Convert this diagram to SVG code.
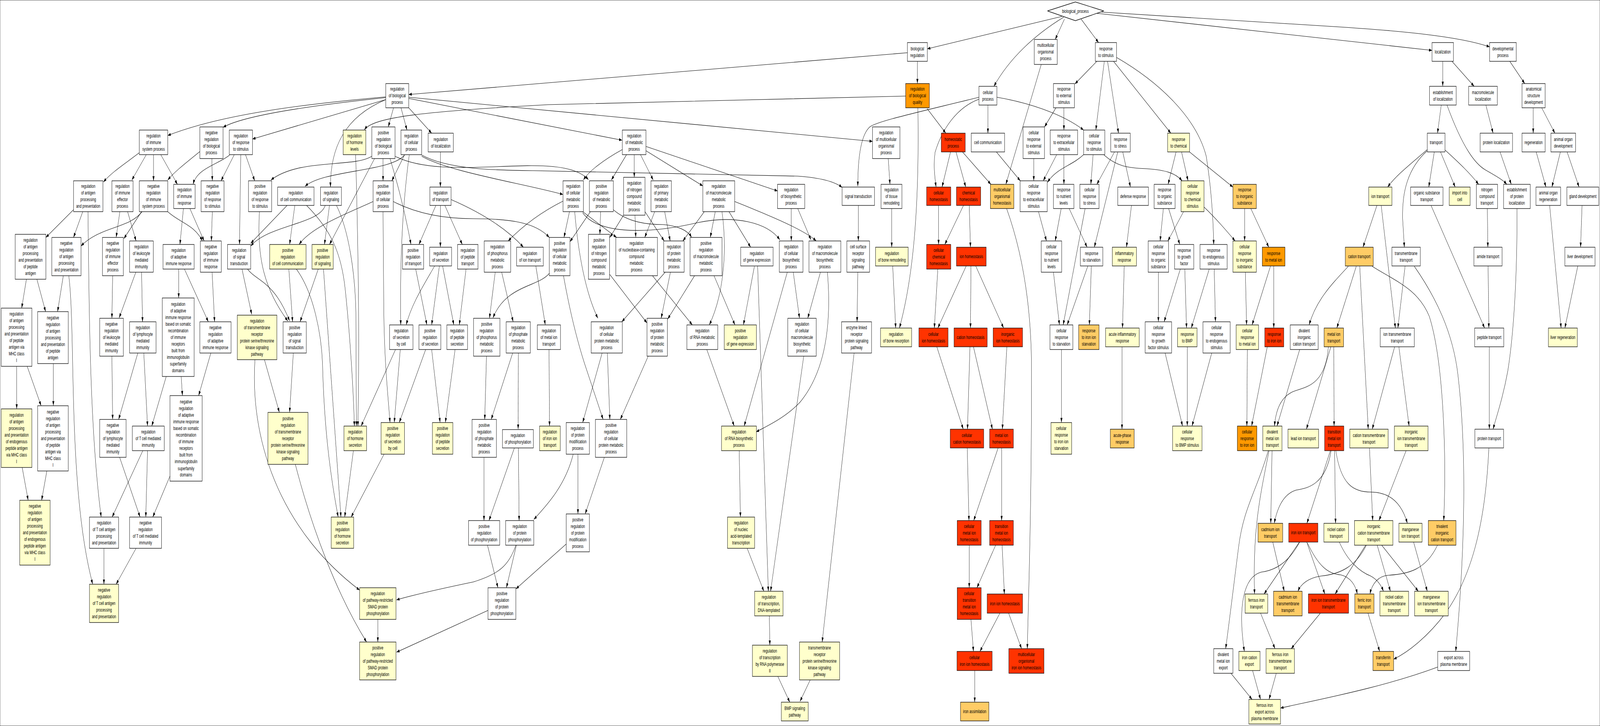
<svg xmlns="http://www.w3.org/2000/svg" width="6420" height="1859" viewBox="0 0 6420 1859" preserveAspectRatio="none">
<style>
svg:root{width:100vw;height:100vh;overflow:hidden}
rect,polygon{stroke:#000;stroke-width:1.3}
.w rect,.w polygon{fill:#fff}.y rect{fill:#ffffcc}.lo rect{fill:#ffcc66}.o rect{fill:#ff9900}.r rect{fill:#ff3300}
text{font-family:"Liberation Sans",Arial,sans-serif;font-size:13px;text-anchor:middle;fill:#000}
#connectors path{fill:none;stroke:#000;stroke-width:1.1;marker-end:url(#a)}
</style>
<defs><marker id="a" viewBox="0 0 12 8" refX="12" refY="4" markerWidth="12" markerHeight="8" markerUnits="userSpaceOnUse" orient="auto"><path d="M0,0 L12,4 L0,8 z" fill="#000"/></marker></defs>
<rect x="0" y="0" width="6420" height="1859" fill="#fff" stroke="none"/>
<g id="connectors">
<path d="M1548,248 C1250,265 900,290 673,347"/>
<path d="M1548,250 C1250,270 980,295 895,326"/>
<path d="M1548,255 L1013,356"/>
<path d="M559,391 C500,420 450,440 415,466"/>
<path d="M587,396 L529,461"/>
<path d="M616,396 L616,463"/>
<path d="M645,396 L712,472"/>
<path d="M802,388 C740,420 700,440 673,461"/>
<path d="M850,406 L852,463"/>
<path d="M921,397 C880,420 790,430 775,472"/>
<path d="M940,396 L887,463"/>
<path d="M966,396 L961,626"/>
<path d="M985,396 L1022,463"/>
<path d="M295,537 L184,608"/>
<path d="M332,542 L295,608"/>
<path d="M353,542 C358,800 360,1100 406,1324"/>
<path d="M481,542 L466,608"/>
<path d="M512,542 L546,617"/>
<path d="M570,542 C520,585 400,580 325,630"/>
<path d="M568,542 L497,611"/>
<path d="M673,542 C720,570 780,575 812,617"/>
<path d="M736,534 L722,626"/>
<path d="M762,534 L819,617"/>
<path d="M852,542 L848,617"/>
<path d="M1041,542 C1030,660 1060,740 1155,822"/>
<path d="M993,689 C1030,720 1100,720 1162,822"/>
<path d="M1152,526 L1006,623"/>
<path d="M1305,526 C1280,575 1080,575 1006,630"/>
<path d="M971,689 L1010,805"/>
<path d="M106,715 L87,789"/>
<path d="M148,715 L183,798"/>
<path d="M254,706 L231,798"/>
<path d="M276,706 C305,850 270,1250 372,1496"/>
<path d="M452,706 L449,815"/>
<path d="M545,697 L478,814"/>
<path d="M568,697 L572,824"/>
<path d="M717,689 L717,763"/>
<path d="M740,689 L836,824"/>
<path d="M851,697 L861,824"/>
<path d="M1061,921 L1121,1056"/>
<path d="M1177,904 L1162,1056"/>
<path d="M1023,921 C1000,1150 1150,1370 1443,1511"/>
<path d="M667,964 L609,1091"/>
<path d="M727,964 L732,1013"/>
<path d="M846,904 L797,1013"/>
<path d="M577,904 L592,1091"/>
<path d="M553,904 L476,1074"/>
<path d="M449,912 L452,1074"/>
<path d="M67,938 L67,1047"/>
<path d="M109,938 L165,1039"/>
<path d="M214,931 L214,1039"/>
<path d="M89,1197 L113,1281"/>
<path d="M188,1206 L167,1281"/>
<path d="M480,1171 L562,1324"/>
<path d="M573,1154 L450,1324"/>
<path d="M592,1154 L585,1324"/>
<path d="M682,1219 L613,1324"/>
<path d="M417,1404 L417,1496"/>
<path d="M546,1404 L466,1496"/>
<path d="M3641,135 L1640,242"/>
<path d="M1640,252 L2496,359"/>
<path d="M1640,249 L3501,362"/>
<path d="M3634,246 L2200,268 C1700,285 1500,300 1462,332"/>
<path d="M1609,276 L1633,333"/>
<path d="M1579,276 L1558,325"/>
<path d="M1640,276 L1732,341"/>
<path d="M1548,255 C1380,300 1325,380 1326,479"/>
<path d="M1492,400 C1420,430 1200,405 1087,461"/>
<path d="M1623,397 C1570,440 1300,435 1224,477"/>
<path d="M1537,406 L1537,463"/>
<path d="M1623,397 L1572,463"/>
<path d="M1503,406 L1322,626"/>
<path d="M1565,406 C1600,480 1630,560 1649,626"/>
<path d="M1642,397 C1610,550 1605,700 1608,832"/>
<path d="M1767,389 L1767,479"/>
<path d="M1585,400 C1800,470 2250,380 2361,460"/>
<path d="M1692,397 C1800,435 2000,436 2140,437 L3200,451 C3290,455 3350,465 3379,480"/>
<path d="M1692,400 C1800,440 2100,470 2259,498"/>
<path d="M1578,516 C1680,550 1800,560 1900,560 C2050,560 2150,570 2204,608"/>
<path d="M1810,511 C1950,550 2040,590 2100,633"/>
<path d="M2259,515 C2150,550 2080,590 2039,617"/>
<path d="M2204,700 C2160,735 2030,730 1978,814"/>
<path d="M1183,526 L1162,626"/>
<path d="M1322,526 L1302,626"/>
<path d="M1497,516 C1400,545 1250,580 1200,626"/>
<path d="M1749,526 L1681,626"/>
<path d="M1767,526 L1767,633"/>
<path d="M1785,526 L1855,626"/>
<path d="M1744,681 C1700,730 1650,780 1630,832"/>
<path d="M1763,681 L1732,832"/>
<path d="M1776,681 L1821,832"/>
<path d="M1870,689 L1843,832"/>
<path d="M1668,689 L1713,832"/>
<path d="M1987,697 L1964,815"/>
<path d="M2013,697 L2059,824"/>
<path d="M2150,681 L2188,832"/>
<path d="M1159,689 L1174,824"/>
<path d="M1277,689 L1204,824"/>
<path d="M1189,689 C1260,750 1290,860 1294,930 C1300,1080 1320,1200 1357,1324"/>
<path d="M1298,689 L1368,1324"/>
<path d="M1230,526 C1330,590 1370,650 1385,740 C1405,860 1418,1000 1422,1091"/>
<path d="M1350,526 C1400,590 1425,700 1428,800 L1430,1091"/>
<path d="M1427,396 C1440,700 1442,900 1436,1091"/>
<path d="M1587,895 L1449,1091"/>
<path d="M1537,542 L1540,800 C1543,930 1555,1000 1565,1082"/>
<path d="M1606,895 L1582,1082"/>
<path d="M1708,895 L1602,1082"/>
<path d="M1732,895 L1766,1082"/>
<path d="M1826,895 L1787,1082"/>
<path d="M1952,912 L1945,1074"/>
<path d="M2057,904 L1971,1074"/>
<path d="M2080,904 L2079,1099"/>
<path d="M1418,1154 L1383,1324"/>
<path d="M1541,1163 L1409,1324"/>
<path d="M1185,1189 C1250,1350 1350,1520 1471,1644"/>
<path d="M1516,1586 L1516,1644"/>
<path d="M2070,1396 C2040,1450 2000,1470 1900,1490 C1750,1510 1650,1525 1591,1536"/>
<path d="M1958,1563 L1591,1670"/>
<path d="M1942,1171 L1942,1333"/>
<path d="M2064,1147 L1962,1333"/>
<path d="M2080,1147 L2083,1333"/>
<path d="M1956,1396 L1998,1505"/>
<path d="M2072,1396 L2032,1505"/>
<path d="M2272,1393 L2070,1508"/>
<path d="M2300,1163 C2270,1240 2200,1290 2142,1330"/>
<path d="M2497,383 C2420,410 2360,440 2341,461"/>
<path d="M2514,396 L2453,461"/>
<path d="M2545,396 L2545,454"/>
<path d="M2570,396 L2621,461"/>
<path d="M2592,386 L2820,476"/>
<path d="M2592,375 L3120,489"/>
<path d="M2285,542 L2263,608"/>
<path d="M2369,542 L2287,619"/>
<path d="M2306,542 C2320,650 2350,750 2399,815"/>
<path d="M2338,542 L2474,608"/>
<path d="M2338,545 C2400,600 2600,600 2800,570 C2950,550 3080,570 3129,614"/>
<path d="M2410,542 L2407,600"/>
<path d="M2461,537 C2520,570 2600,575 2660,575 C2720,578 2760,590 2775,608"/>
<path d="M2502,551 L2447,608"/>
<path d="M2548,551 L2551,608"/>
<path d="M2588,542 L2665,617"/>
<path d="M2627,542 L2587,608"/>
<path d="M2667,542 L2689,617"/>
<path d="M2826,542 L2740,617"/>
<path d="M2870,542 L2850,608"/>
<path d="M2897,542 C2920,650 2900,760 2846,832"/>
<path d="M2925,542 L3012,633"/>
<path d="M2948,516 C3100,555 3230,590 3275,617"/>
<path d="M3175,534 L3175,617"/>
<path d="M3201,534 L3254,614"/>
<path d="M3183,697 L3208,815"/>
<path d="M3292,697 L3241,815"/>
<path d="M3159,697 L2986,1091"/>
<path d="M3320,697 C3340,850 3300,960 3210,1030 C3150,1070 3080,1090 3034,1106"/>
<path d="M2836,895 L2946,1091"/>
<path d="M3040,681 L3083,1514"/>
<path d="M3225,912 L3092,1514"/>
<path d="M3027,682 L2983,832"/>
<path d="M2865,706 L2949,832"/>
<path d="M2787,706 L2679,817"/>
<path d="M2690,697 L2653,815"/>
<path d="M2669,697 L2495,824"/>
<path d="M2447,703 L2596,827"/>
<path d="M2618,706 L2778,832"/>
<path d="M2261,706 C2290,810 2320,880 2345,930 L2420,1074"/>
<path d="M2416,904 L2338,1082"/>
<path d="M2437,904 L2447,1074"/>
<path d="M2601,912 L2489,1074"/>
<path d="M2203,895 L2205,1091"/>
<path d="M2319,1163 L2319,1316"/>
<path d="M2425,1171 L2348,1316"/>
<path d="M2966,1154 L2971,1324"/>
<path d="M2998,1404 L3065,1514"/>
<path d="M3087,1577 L3089,1652"/>
<path d="M3121,1732 L3169,1798"/>
<path d="M3251,1741 L3210,1796"/>
<path d="M3427,904 L3299,1644"/>
<path d="M4261,42 L3721,125"/>
<path d="M4268,44 C4150,90 4050,150 3988,221"/>
<path d="M4271,49 L4234,101"/>
<path d="M3681,157 L3681,214"/>
<path d="M3720,278 L3795,341"/>
<path d="M3683,276 C3690,550 3660,720 3609,840"/>
<path d="M3928,249 C3700,285 3520,310 3490,325 C3455,345 3442,400 3442,477"/>
<path d="M3928,254 C3840,275 3780,330 3752,390 C3745,420 3750,450 3756,479"/>
<path d="M3964,269 L3964,341"/>
<path d="M4000,249 C4120,262 4260,290 4348,333"/>
<path d="M3564,406 L3571,472"/>
<path d="M3578,534 L3578,633"/>
<path d="M3582,681 L3594,840"/>
<path d="M3814,389 L3780,479"/>
<path d="M3836,389 L3875,479"/>
<path d="M3862,389 L3976,472"/>
<path d="M3998,389 L4094,463"/>
<path d="M4178,165 L4036,472"/>
<path d="M3766,526 L3766,626"/>
<path d="M3866,526 L3791,626"/>
<path d="M3889,526 L3894,633"/>
<path d="M4039,534 C4110,660 4139,800 4139,950 C4139,1300 4128,1500 4122,1661"/>
<path d="M4237,276 L4191,325"/>
<path d="M4269,276 L4269,333"/>
<path d="M4148,406 L4148,463"/>
<path d="M4240,396 L4186,463"/>
<path d="M4269,396 L4269,472"/>
<path d="M4348,396 C4300,425 4240,430 4203,467"/>
<path d="M4167,542 L4199,617"/>
<path d="M4258,534 L4234,617"/>
<path d="M4227,697 L4251,832"/>
<path d="M4354,534 L4266,832"/>
<path d="M4365,681 L4282,832"/>
<path d="M4259,895 L4259,1082"/>
<path d="M3444,526 L3444,617"/>
<path d="M3442,697 L3439,824"/>
<path d="M3763,689 L3749,840"/>
<path d="M3877,681 L3763,840"/>
<path d="M3896,681 L3894,840"/>
<path d="M3915,681 L4027,840"/>
<path d="M3759,888 L3865,1099"/>
<path d="M3892,888 L3882,1099"/>
<path d="M3906,888 L3982,1099"/>
<path d="M4040,888 L4022,1099"/>
<path d="M3881,1147 L3888,1333"/>
<path d="M4005,1147 L3907,1333"/>
<path d="M4019,1147 L4019,1333"/>
<path d="M3889,1396 L3889,1505"/>
<path d="M3995,1396 L3920,1505"/>
<path d="M4021,1396 L4030,1521"/>
<path d="M3896,1586 L3906,1668"/>
<path d="M4012,1570 L3932,1668"/>
<path d="M4047,1570 L4099,1661"/>
<path d="M3911,1717 L3911,1798"/>
<path d="M4338,49 L4408,109"/>
<path d="M4420,31 L5350,68 C5600,78 5850,92 5977,120"/>
<path d="M4400,34 L5746,129"/>
<path d="M4401,157 L4313,215"/>
<path d="M4431,157 L4397,333"/>
<path d="M4444,157 L4488,341"/>
<path d="M4468,157 L4698,341"/>
<path d="M4480,147 C4650,210 4800,300 4840,400 C4860,480 4868,560 4870,626"/>
<path d="M4386,396 L4377,472"/>
<path d="M4430,397 C4480,425 4520,430 4600,432 C4680,435 4720,445 4743,463"/>
<path d="M4472,389 L4401,472"/>
<path d="M4505,389 L4536,479"/>
<path d="M4485,389 L4391,633"/>
<path d="M4290,534 L4362,633"/>
<path d="M4719,389 L4687,472"/>
<path d="M4741,389 L4767,463"/>
<path d="M4773,389 L4947,479"/>
<path d="M4540,526 L4520,633"/>
<path d="M4668,534 L4655,617"/>
<path d="M4689,534 L4734,626"/>
<path d="M4749,542 L4686,617"/>
<path d="M4831,530 C4880,560 4920,590 4956,617"/>
<path d="M4994,534 L4994,617"/>
<path d="M5019,534 L5091,633"/>
<path d="M4379,681 L4371,832"/>
<path d="M4511,681 L4504,840"/>
<path d="M4648,697 L4648,824"/>
<path d="M4736,689 L4671,824"/>
<path d="M4754,689 L4761,840"/>
<path d="M4852,689 L4780,840"/>
<path d="M4872,689 L4877,824"/>
<path d="M4997,697 L5002,832"/>
<path d="M5098,681 L5024,832"/>
<path d="M5111,681 L5111,840"/>
<path d="M5410,682 C5340,730 5280,770 5253,832"/>
<path d="M5442,682 L5364,840"/>
<path d="M4502,888 L4502,1099"/>
<path d="M4675,904 L4745,1091"/>
<path d="M4764,888 L4764,1091"/>
<path d="M4862,904 L4783,1091"/>
<path d="M5005,895 L5003,1091"/>
<path d="M5085,888 L5022,1091"/>
<path d="M5215,895 L5124,1091"/>
<path d="M5330,888 C5320,980 5250,990 5200,1000 C5150,1010 5120,1040 5114,1091"/>
<path d="M5340,888 L5242,1099"/>
<path d="M5352,888 L5353,1091"/>
<path d="M5104,1154 L5099,1340"/>
<path d="M5341,1154 C5320,1240 5250,1250 5200,1255 C5150,1265 5125,1300 5113,1340"/>
<path d="M5338,1154 L5244,1340"/>
<path d="M5355,1154 L5359,1340"/>
<path d="M5360,1154 C5380,1240 5430,1260 5500,1260 C5580,1260 5625,1290 5647,1340"/>
<path d="M5092,1154 C5060,1260 5025,1350 5034,1521"/>
<path d="M5089,1154 C5040,1260 4990,1300 4970,1400 C4950,1500 4935,1580 4918,1661"/>
<path d="M5214,1388 L5072,1521"/>
<path d="M5215,1388 C5180,1430 5130,1460 5060,1465 C4980,1480 4970,1570 4993,1668"/>
<path d="M5243,1388 L5316,1521"/>
<path d="M5246,1390 C5290,1450 5330,1470 5380,1472 C5420,1478 5440,1500 5446,1521"/>
<path d="M5107,1388 L5153,1514"/>
<path d="M5483,1396 C5440,1450 5380,1470 5300,1475 C5250,1480 5220,1495 5208,1514"/>
<path d="M5058,1570 L5116,1661"/>
<path d="M5298,1570 L5181,1661"/>
<path d="M4939,1724 L5024,1791"/>
<path d="M5026,1717 L5058,1791"/>
<path d="M5121,1724 L5092,1791"/>
<path d="M5769,1708 C5550,1760 5300,1790 5138,1813"/>
<path d="M5789,157 L5789,221"/>
<path d="M5826,157 L5915,221"/>
<path d="M6058,157 L6118,214"/>
<path d="M5783,269 L5768,341"/>
<path d="M5806,269 C5870,380 5920,420 5960,435 C6000,450 6030,460 6046,472"/>
<path d="M5962,269 L5991,341"/>
<path d="M6152,276 L6152,341"/>
<path d="M6186,276 L6239,341"/>
<path d="M5727,383 C5660,420 5600,450 5568,479"/>
<path d="M5727,386 C5650,430 5625,490 5628,560 L5635,633"/>
<path d="M5755,389 L5733,479"/>
<path d="M5780,389 L5839,479"/>
<path d="M5798,384 C5860,420 5900,445 5933,472"/>
<path d="M6019,389 L6064,472"/>
<path d="M6164,389 L6203,479"/>
<path d="M6261,389 L6227,479"/>
<path d="M6288,389 L6336,479"/>
<path d="M5525,526 L5469,633"/>
<path d="M5542,526 L5599,840"/>
<path d="M5638,681 L5609,840"/>
<path d="M5968,534 L5970,633"/>
<path d="M5742,526 L5957,840"/>
<path d="M5971,681 L5974,840"/>
<path d="M6348,526 L6342,633"/>
<path d="M6218,526 L6264,840"/>
<path d="M6331,681 L6279,840"/>
<path d="M5456,682 L5490,1099"/>
<path d="M5506,682 C5600,720 5690,740 5735,810 C5790,920 5805,1150 5793,1333"/>
<path d="M5675,682 C5760,760 5830,850 5850,960 C5885,1150 5880,1400 5841,1668"/>
<path d="M5596,888 L5506,1099"/>
<path d="M5613,888 L5654,1091"/>
<path d="M5976,888 L5976,1099"/>
<path d="M6087,534 C6088,700 6075,850 6050,950 C6030,1020 6005,1065 5991,1099"/>
<path d="M5495,1147 L5508,1333"/>
<path d="M5642,1154 L5533,1333"/>
<path d="M5480,1396 L5357,1521"/>
<path d="M5526,1396 L5579,1514"/>
<path d="M5544,1396 L5691,1514"/>
<path d="M5374,1388 C5410,1440 5460,1465 5500,1475 C5520,1482 5540,1495 5551,1514"/>
<path d="M5672,1388 L5727,1514"/>
<path d="M5768,1396 C5720,1460 5650,1470 5570,1473 C5530,1475 5505,1495 5497,1521"/>
<path d="M5489,1570 L5536,1668"/>
<path d="M5974,1147 C5960,1350 5900,1480 5800,1570 C5730,1630 5650,1670 5592,1688"/>
</g>
<g id="immune_sys" class="w"><rect x="559" y="333" width="114" height="63"/><text x="616" y="352">regulation<tspan x="616" dy="17">of immune</tspan><tspan x="616" dy="17">system process</tspan></text></g>
<g id="neg_bio" class="w"><rect x="802" y="325" width="93" height="81"/><text x="848.5" y="344.5">negative<tspan x="848.5" dy="17">regulation</tspan><tspan x="848.5" dy="17">of biological</tspan><tspan x="848.5" dy="17">process</tspan></text></g>
<g id="reg_resp_stim" class="w"><rect x="920" y="333" width="93" height="63"/><text x="966.5" y="352">regulation<tspan x="966.5" dy="17">of response</tspan><tspan x="966.5" dy="17">to stimulus</tspan></text></g>
<g id="reg_antigen" class="w"><rect x="295" y="463" width="118" height="79"/><text x="354" y="481.5">regulation<tspan x="354" dy="17">of antigen</tspan><tspan x="354" dy="17">processing</tspan><tspan x="354" dy="17">and presentation</tspan></text></g>
<g id="reg_imm_eff" class="w"><rect x="449" y="463" width="85" height="79"/><text x="491.5" y="481.5">regulation<tspan x="491.5" dy="17">of immune</tspan><tspan x="491.5" dy="17">effector</tspan><tspan x="491.5" dy="17">process</tspan></text></g>
<g id="neg_imm_sys" class="w"><rect x="559" y="463" width="114" height="79"/><text x="616" y="481.5">negative<tspan x="616" dy="17">regulation</tspan><tspan x="616" dy="17">of immune</tspan><tspan x="616" dy="17">system process</tspan></text></g>
<g id="reg_imm_resp" class="w"><rect x="697" y="472" width="86" height="62"/><text x="740" y="490.5">regulation<tspan x="740" dy="17">of immune</tspan><tspan x="740" dy="17">response</tspan></text></g>
<g id="neg_resp_stim" class="w"><rect x="807" y="463" width="92" height="79"/><text x="853" y="481.5">negative<tspan x="853" dy="17">regulation</tspan><tspan x="853" dy="17">of response</tspan><tspan x="853" dy="17">to stimulus</tspan></text></g>
<g id="pos_resp_stim" class="w"><rect x="997" y="463" width="93" height="79"/><text x="1043.5" y="481.5">positive<tspan x="1043.5" dy="17">regulation</tspan><tspan x="1043.5" dy="17">of response</tspan><tspan x="1043.5" dy="17">to stimulus</tspan></text></g>
<g id="reg_antigen_pep" class="w"><rect x="61" y="600" width="123" height="115"/><text x="122.5" y="619.5">regulation<tspan x="122.5" dy="17">of antigen</tspan><tspan x="122.5" dy="17">processing</tspan><tspan x="122.5" dy="17">and presentation</tspan><tspan x="122.5" dy="17">of peptide</tspan><tspan x="122.5" dy="17">antigen</tspan></text></g>
<g id="neg_antigen" class="w"><rect x="208" y="608" width="117" height="98"/><text x="266.5" y="627.5">negative<tspan x="266.5" dy="17">regulation</tspan><tspan x="266.5" dy="17">of antigen</tspan><tspan x="266.5" dy="17">processing</tspan><tspan x="266.5" dy="17">and presentation</tspan></text></g>
<g id="neg_imm_eff" class="w"><rect x="411" y="608" width="84" height="98"/><text x="453" y="627.5">negative<tspan x="453" dy="17">regulation</tspan><tspan x="453" dy="17">of immune</tspan><tspan x="453" dy="17">effector</tspan><tspan x="453" dy="17">process</tspan></text></g>
<g id="reg_leuk" class="w"><rect x="520" y="617" width="95" height="80"/><text x="567.5" y="636">regulation<tspan x="567.5" dy="17">of leukocyte</tspan><tspan x="567.5" dy="17">mediated</tspan><tspan x="567.5" dy="17">immunity</tspan></text></g>
<g id="reg_adapt" class="w"><rect x="654" y="626" width="125" height="63"/><text x="716.5" y="645">regulation<tspan x="716.5" dy="17">of adaptive</tspan><tspan x="716.5" dy="17">immune response</tspan></text></g>
<g id="neg_imm_resp" class="w"><rect x="804" y="617" width="84" height="80"/><text x="846" y="636">negative<tspan x="846" dy="17">regulation</tspan><tspan x="846" dy="17">of immune</tspan><tspan x="846" dy="17">response</tspan></text></g>
<g id="reg_sig_trans" class="w"><rect x="913" y="626" width="93" height="63"/><text x="959.5" y="645">regulation<tspan x="959.5" dy="17">of signal</tspan><tspan x="959.5" dy="17">transduction</tspan></text></g>
<g id="reg_ag_mhc" class="w"><rect x="5" y="789" width="123" height="149"/><text x="66.5" y="808.5">regulation<tspan x="66.5" dy="17">of antigen</tspan><tspan x="66.5" dy="17">processing</tspan><tspan x="66.5" dy="17">and presentation</tspan><tspan x="66.5" dy="17">of peptide</tspan><tspan x="66.5" dy="17">antigen via</tspan><tspan x="66.5" dy="17">MHC class</tspan><tspan x="66.5" dy="17">I</tspan></text></g>
<g id="neg_ag_pep" class="w"><rect x="151" y="798" width="123" height="133"/><text x="212.5" y="818">negative<tspan x="212.5" dy="17">regulation</tspan><tspan x="212.5" dy="17">of antigen</tspan><tspan x="212.5" dy="17">processing</tspan><tspan x="212.5" dy="17">and presentation</tspan><tspan x="212.5" dy="17">of peptide</tspan><tspan x="212.5" dy="17">antigen</tspan></text></g>
<g id="neg_leuk" class="w"><rect x="400" y="815" width="95" height="97"/><text x="447.5" y="834">negative<tspan x="447.5" dy="17">regulation</tspan><tspan x="447.5" dy="17">of leukocyte</tspan><tspan x="447.5" dy="17">mediated</tspan><tspan x="447.5" dy="17">immunity</tspan></text></g>
<g id="reg_lymph" class="w"><rect x="520" y="824" width="106" height="80"/><text x="573" y="843">regulation<tspan x="573" dy="17">of lymphocyte</tspan><tspan x="573" dy="17">mediated</tspan><tspan x="573" dy="17">immunity</tspan></text></g>
<g id="reg_adapt_som" class="w"><rect x="651" y="763" width="128" height="201"/><text x="715" y="783">regulation<tspan x="715" dy="17">of adaptive</tspan><tspan x="715" dy="17">immune response</tspan><tspan x="715" dy="17">based on somatic</tspan><tspan x="715" dy="17">recombination</tspan><tspan x="715" dy="17">of immune</tspan><tspan x="715" dy="17">receptors</tspan><tspan x="715" dy="17">built from</tspan><tspan x="715" dy="17">immunoglobulin</tspan><tspan x="715" dy="17">superfamily</tspan><tspan x="715" dy="17">domains</tspan></text></g>
<g id="neg_adapt" class="w"><rect x="802" y="824" width="125" height="80"/><text x="864.5" y="843">negative<tspan x="864.5" dy="17">regulation</tspan><tspan x="864.5" dy="17">of adaptive</tspan><tspan x="864.5" dy="17">immune response</tspan></text></g>
<g id="reg_tm_ser" class="y"><rect x="952" y="807" width="159" height="114"/><text x="1031.5" y="826">regulation<tspan x="1031.5" dy="17">of transmembrane</tspan><tspan x="1031.5" dy="17">receptor</tspan><tspan x="1031.5" dy="17">protein serine/threonine</tspan><tspan x="1031.5" dy="17">kinase signaling</tspan><tspan x="1031.5" dy="17">pathway</tspan></text></g>
<g id="reg_ag_endo" class="y"><rect x="5" y="1047" width="123" height="150"/><text x="66.5" y="1067">regulation<tspan x="66.5" dy="17">of antigen</tspan><tspan x="66.5" dy="17">processing</tspan><tspan x="66.5" dy="17">and presentation</tspan><tspan x="66.5" dy="17">of endogenous</tspan><tspan x="66.5" dy="17">peptide antigen</tspan><tspan x="66.5" dy="17">via MHC class</tspan><tspan x="66.5" dy="17">I</tspan></text></g>
<g id="neg_ag_mhc" class="w"><rect x="151" y="1039" width="123" height="167"/><text x="212.5" y="1059">negative<tspan x="212.5" dy="17">regulation</tspan><tspan x="212.5" dy="17">of antigen</tspan><tspan x="212.5" dy="17">processing</tspan><tspan x="212.5" dy="17">and presentation</tspan><tspan x="212.5" dy="17">of peptide</tspan><tspan x="212.5" dy="17">antigen via</tspan><tspan x="212.5" dy="17">MHC class</tspan><tspan x="212.5" dy="17">I</tspan></text></g>
<g id="neg_lymph" class="w"><rect x="400" y="1074" width="106" height="97"/><text x="453" y="1093">negative<tspan x="453" dy="17">regulation</tspan><tspan x="453" dy="17">of lymphocyte</tspan><tspan x="453" dy="17">mediated</tspan><tspan x="453" dy="17">immunity</tspan></text></g>
<g id="reg_tcell_med" class="w"><rect x="531" y="1091" width="128" height="63"/><text x="595" y="1110">regulation<tspan x="595" dy="17">of T cell mediated</tspan><tspan x="595" dy="17">immunity</tspan></text></g>
<g id="neg_adapt_som" class="w"><rect x="682" y="1013" width="129" height="219"/><text x="746.5" y="1033.5">negative<tspan x="746.5" dy="17">regulation</tspan><tspan x="746.5" dy="17">of adaptive</tspan><tspan x="746.5" dy="17">immune response</tspan><tspan x="746.5" dy="17">based on somatic</tspan><tspan x="746.5" dy="17">recombination</tspan><tspan x="746.5" dy="17">of immune</tspan><tspan x="746.5" dy="17">receptors</tspan><tspan x="746.5" dy="17">built from</tspan><tspan x="746.5" dy="17">immunoglobulin</tspan><tspan x="746.5" dy="17">superfamily</tspan><tspan x="746.5" dy="17">domains</tspan></text></g>
<g id="neg_ag_endo" class="y"><rect x="79" y="1281" width="122" height="166"/><text x="140" y="1300.5">negative<tspan x="140" dy="17">regulation</tspan><tspan x="140" dy="17">of antigen</tspan><tspan x="140" dy="17">processing</tspan><tspan x="140" dy="17">and presentation</tspan><tspan x="140" dy="17">of endogenous</tspan><tspan x="140" dy="17">peptide antigen</tspan><tspan x="140" dy="17">via MHC class</tspan><tspan x="140" dy="17">I</tspan></text></g>
<g id="reg_tcell_ag" class="w"><rect x="359" y="1324" width="117" height="80"/><text x="417.5" y="1343">regulation<tspan x="417.5" dy="17">of T cell antigen</tspan><tspan x="417.5" dy="17">processing</tspan><tspan x="417.5" dy="17">and presentation</tspan></text></g>
<g id="neg_tcell_med" class="w"><rect x="520" y="1324" width="128" height="80"/><text x="584" y="1343">negative<tspan x="584" dy="17">regulation</tspan><tspan x="584" dy="17">of T cell mediated</tspan><tspan x="584" dy="17">immunity</tspan></text></g>
<g id="neg_tcell_ag" class="y"><rect x="359" y="1496" width="117" height="98"/><text x="417.5" y="1515.5">negative<tspan x="417.5" dy="17">regulation</tspan><tspan x="417.5" dy="17">of T cell antigen</tspan><tspan x="417.5" dy="17">processing</tspan><tspan x="417.5" dy="17">and presentation</tspan></text></g>
<g id="reg_bio" class="w"><rect x="1548" y="214" width="92" height="62"/><text x="1594" y="232.5">regulation<tspan x="1594" dy="17">of biological</tspan><tspan x="1594" dy="17">process</tspan></text></g>
<g id="reg_hormone" class="y"><rect x="1377" y="333" width="91" height="63"/><text x="1422.5" y="352">regulation<tspan x="1422.5" dy="17">of hormone</tspan><tspan x="1422.5" dy="17">levels</tspan></text></g>
<g id="pos_bio" class="w"><rect x="1492" y="325" width="93" height="81"/><text x="1538.5" y="344.5">positive<tspan x="1538.5" dy="17">regulation</tspan><tspan x="1538.5" dy="17">of biological</tspan><tspan x="1538.5" dy="17">process</tspan></text></g>
<g id="reg_cellular" class="w"><rect x="1609" y="333" width="83" height="63"/><text x="1650.5" y="352">regulation<tspan x="1650.5" dy="17">of cellular</tspan><tspan x="1650.5" dy="17">process</tspan></text></g>
<g id="reg_local" class="w"><rect x="1718" y="341" width="101" height="48"/><text x="1768.5" y="361">regulation<tspan x="1768.5" dy="17">of localization</tspan></text></g>
<g id="reg_cell_comm" class="w"><rect x="1114" y="479" width="146" height="47"/><text x="1187" y="498.5">regulation<tspan x="1187" dy="17">of cell communication</tspan></text></g>
<g id="reg_signaling" class="w"><rect x="1286" y="479" width="84" height="47"/><text x="1328" y="498.5">regulation<tspan x="1328" dy="17">of signaling</tspan></text></g>
<g id="pos_cellular" class="w"><rect x="1497" y="463" width="81" height="79"/><text x="1537.5" y="481.5">positive<tspan x="1537.5" dy="17">regulation</tspan><tspan x="1537.5" dy="17">of cellular</tspan><tspan x="1537.5" dy="17">process</tspan></text></g>
<g id="reg_transport" class="w"><rect x="1725" y="479" width="85" height="47"/><text x="1767.5" y="498.5">regulation<tspan x="1767.5" dy="17">of transport</tspan></text></g>
<g id="pos_cell_comm" class="y"><rect x="1082" y="626" width="146" height="63"/><text x="1155" y="645">positive<tspan x="1155" dy="17">regulation</tspan><tspan x="1155" dy="17">of cell communication</tspan></text></g>
<g id="pos_signaling" class="y"><rect x="1252" y="626" width="85" height="63"/><text x="1294.5" y="645">positive<tspan x="1294.5" dy="17">regulation</tspan><tspan x="1294.5" dy="17">of signaling</tspan></text></g>
<g id="pos_transport" class="w"><rect x="1615" y="626" width="85" height="63"/><text x="1657.5" y="645">positive<tspan x="1657.5" dy="17">regulation</tspan><tspan x="1657.5" dy="17">of transport</tspan></text></g>
<g id="reg_secretion" class="w"><rect x="1724" y="633" width="88" height="48"/><text x="1768" y="653">regulation<tspan x="1768" dy="17">of secretion</tspan></text></g>
<g id="reg_pep_trans" class="w"><rect x="1836" y="626" width="82" height="63"/><text x="1877" y="645">regulation<tspan x="1877" dy="17">of peptide</tspan><tspan x="1877" dy="17">transport</tspan></text></g>
<g id="reg_phosphorus" class="w"><rect x="1943" y="617" width="106" height="80"/><text x="1996" y="636">regulation<tspan x="1996" dy="17">of phosphorus</tspan><tspan x="1996" dy="17">metabolic</tspan><tspan x="1996" dy="17">process</tspan></text></g>
<g id="reg_ion_trans" class="w"><rect x="2073" y="633" width="107" height="48"/><text x="2126.5" y="653">regulation<tspan x="2126.5" dy="17">of ion transport</tspan></text></g>
<g id="pos_sig_trans" class="w"><rect x="1136" y="824" width="93" height="80"/><text x="1182.5" y="843">positive<tspan x="1182.5" dy="17">regulation</tspan><tspan x="1182.5" dy="17">of signal</tspan><tspan x="1182.5" dy="17">transduction</tspan></text></g>
<g id="reg_sec_cell" class="w"><rect x="1563" y="832" width="94" height="63"/><text x="1610" y="851">regulation<tspan x="1610" dy="17">of secretion</tspan><tspan x="1610" dy="17">by cell</tspan></text></g>
<g id="pos_secretion" class="w"><rect x="1681" y="832" width="88" height="63"/><text x="1725" y="851">positive<tspan x="1725" dy="17">regulation</tspan><tspan x="1725" dy="17">of secretion</tspan></text></g>
<g id="reg_pep_sec" class="w"><rect x="1793" y="832" width="83" height="63"/><text x="1834.5" y="851">regulation<tspan x="1834.5" dy="17">of peptide</tspan><tspan x="1834.5" dy="17">secretion</tspan></text></g>
<g id="pos_phosphorus" class="w"><rect x="1900" y="815" width="106" height="97"/><text x="1953" y="834">positive<tspan x="1953" dy="17">regulation</tspan><tspan x="1953" dy="17">of phosphorus</tspan><tspan x="1953" dy="17">metabolic</tspan><tspan x="1953" dy="17">process</tspan></text></g>
<g id="reg_phosphate" class="w"><rect x="2031" y="824" width="97" height="80"/><text x="2079.5" y="843">regulation<tspan x="2079.5" dy="17">of phosphate</tspan><tspan x="2079.5" dy="17">metabolic</tspan><tspan x="2079.5" dy="17">process</tspan></text></g>
<g id="pos_tm_ser" class="y"><rect x="1075" y="1056" width="161" height="133"/><text x="1155.5" y="1076">positive<tspan x="1155.5" dy="17">regulation</tspan><tspan x="1155.5" dy="17">of transmembrane</tspan><tspan x="1155.5" dy="17">receptor</tspan><tspan x="1155.5" dy="17">protein serine/threonine</tspan><tspan x="1155.5" dy="17">kinase signaling</tspan><tspan x="1155.5" dy="17">pathway</tspan></text></g>
<g id="reg_horm_sec" class="y"><rect x="1380" y="1091" width="91" height="63"/><text x="1425.5" y="1110">regulation<tspan x="1425.5" dy="17">of hormone</tspan><tspan x="1425.5" dy="17">secretion</tspan></text></g>
<g id="pos_sec_cell" class="y"><rect x="1529" y="1082" width="94" height="81"/><text x="1576" y="1101.5">positive<tspan x="1576" dy="17">regulation</tspan><tspan x="1576" dy="17">of secretion</tspan><tspan x="1576" dy="17">by cell</tspan></text></g>
<g id="pos_pep_sec" class="y"><rect x="1735" y="1082" width="82" height="81"/><text x="1776" y="1101.5">positive<tspan x="1776" dy="17">regulation</tspan><tspan x="1776" dy="17">of peptide</tspan><tspan x="1776" dy="17">secretion</tspan></text></g>
<g id="pos_phosphate" class="w"><rect x="1894" y="1074" width="98" height="97"/><text x="1943" y="1093">positive<tspan x="1943" dy="17">regulation</tspan><tspan x="1943" dy="17">of phosphate</tspan><tspan x="1943" dy="17">metabolic</tspan><tspan x="1943" dy="17">process</tspan></text></g>
<g id="reg_phosphoryl" class="w"><rect x="2016" y="1100" width="124" height="47"/><text x="2078" y="1119.5">regulation<tspan x="2078" dy="17">of phosphorylation</tspan></text></g>
<g id="pos_horm_sec" class="y"><rect x="1329" y="1324" width="90" height="80"/><text x="1374" y="1343">positive<tspan x="1374" dy="17">regulation</tspan><tspan x="1374" dy="17">of hormone</tspan><tspan x="1374" dy="17">secretion</tspan></text></g>
<g id="pos_phosphoryl" class="w"><rect x="1880" y="1333" width="125" height="63"/><text x="1942.5" y="1352">positive<tspan x="1942.5" dy="17">regulation</tspan><tspan x="1942.5" dy="17">of phosphorylation</tspan></text></g>
<g id="reg_prot_phos" class="w"><rect x="2029" y="1333" width="113" height="63"/><text x="2085.5" y="1352">regulation<tspan x="2085.5" dy="17">of protein</tspan><tspan x="2085.5" dy="17">phosphorylation</tspan></text></g>
<g id="reg_smad" class="y"><rect x="1443" y="1505" width="146" height="81"/><text x="1516" y="1524.5">regulation<tspan x="1516" dy="17">of pathway-restricted</tspan><tspan x="1516" dy="17">SMAD protein</tspan><tspan x="1516" dy="17">phosphorylation</tspan></text></g>
<g id="pos_prot_phos" class="w"><rect x="1958" y="1505" width="112" height="81"/><text x="2014" y="1524.5">positive<tspan x="2014" dy="17">regulation</tspan><tspan x="2014" dy="17">of protein</tspan><tspan x="2014" dy="17">phosphorylation</tspan></text></g>
<g id="pos_smad" class="y"><rect x="1443" y="1644" width="146" height="97"/><text x="1516" y="1663">positive<tspan x="1516" dy="17">regulation</tspan><tspan x="1516" dy="17">of pathway-restricted</tspan><tspan x="1516" dy="17">SMAD protein</tspan><tspan x="1516" dy="17">phosphorylation</tspan></text></g>
<g id="reg_metab" class="w"><rect x="2497" y="333" width="95" height="63"/><text x="2544.5" y="352">regulation<tspan x="2544.5" dy="17">of metabolic</tspan><tspan x="2544.5" dy="17">process</tspan></text></g>
<g id="reg_cell_metab" class="w"><rect x="2259" y="463" width="82" height="79"/><text x="2300" y="481.5">regulation<tspan x="2300" dy="17">of cellular</tspan><tspan x="2300" dy="17">metabolic</tspan><tspan x="2300" dy="17">process</tspan></text></g>
<g id="pos_metab" class="w"><rect x="2365" y="463" width="96" height="79"/><text x="2413" y="481.5">positive<tspan x="2413" dy="17">regulation</tspan><tspan x="2413" dy="17">of metabolic</tspan><tspan x="2413" dy="17">process</tspan></text></g>
<g id="reg_nitro" class="w"><rect x="2502" y="454" width="86" height="97"/><text x="2545" y="473">regulation<tspan x="2545" dy="17">of nitrogen</tspan><tspan x="2545" dy="17">compound</tspan><tspan x="2545" dy="17">metabolic</tspan><tspan x="2545" dy="17">process</tspan></text></g>
<g id="reg_primary" class="w"><rect x="2612" y="463" width="82" height="79"/><text x="2653" y="481.5">regulation<tspan x="2653" dy="17">of primary</tspan><tspan x="2653" dy="17">metabolic</tspan><tspan x="2653" dy="17">process</tspan></text></g>
<g id="reg_macro" class="w"><rect x="2820" y="463" width="128" height="79"/><text x="2884" y="481.5">regulation<tspan x="2884" dy="17">of macromolecule</tspan><tspan x="2884" dy="17">metabolic</tspan><tspan x="2884" dy="17">process</tspan></text></g>
<g id="reg_biosyn" class="w"><rect x="3120" y="472" width="109" height="62"/><text x="3174.5" y="490.5">regulation<tspan x="3174.5" dy="17">of biosynthetic</tspan><tspan x="3174.5" dy="17">process</tspan></text></g>
<g id="pos_cell_metab" class="w"><rect x="2204" y="608" width="83" height="98"/><text x="2245.5" y="627.5">positive<tspan x="2245.5" dy="17">regulation</tspan><tspan x="2245.5" dy="17">of cellular</tspan><tspan x="2245.5" dy="17">metabolic</tspan><tspan x="2245.5" dy="17">process</tspan></text></g>
<g id="pos_nitro" class="w"><rect x="2361" y="600" width="85" height="115"/><text x="2403.5" y="619.5">positive<tspan x="2403.5" dy="17">regulation</tspan><tspan x="2403.5" dy="17">of nitrogen</tspan><tspan x="2403.5" dy="17">compound</tspan><tspan x="2403.5" dy="17">metabolic</tspan><tspan x="2403.5" dy="17">process</tspan></text></g>
<g id="reg_nucleobase" class="w"><rect x="2471" y="608" width="167" height="98"/><text x="2554.5" y="627.5">regulation<tspan x="2554.5" dy="17">of nucleobase-containing</tspan><tspan x="2554.5" dy="17">compound</tspan><tspan x="2554.5" dy="17">metabolic</tspan><tspan x="2554.5" dy="17">process</tspan></text></g>
<g id="reg_protein_metab" class="w"><rect x="2663" y="617" width="82" height="80"/><text x="2704" y="636">regulation<tspan x="2704" dy="17">of protein</tspan><tspan x="2704" dy="17">metabolic</tspan><tspan x="2704" dy="17">process</tspan></text></g>
<g id="pos_macro" class="w"><rect x="2769" y="608" width="128" height="98"/><text x="2833" y="627.5">positive<tspan x="2833" dy="17">regulation</tspan><tspan x="2833" dy="17">of macromolecule</tspan><tspan x="2833" dy="17">metabolic</tspan><tspan x="2833" dy="17">process</tspan></text></g>
<g id="reg_gene" class="w"><rect x="2972" y="633" width="130" height="48"/><text x="3037" y="653">regulation<tspan x="3037" dy="17">of gene expression</tspan></text></g>
<g id="reg_cell_biosyn" class="w"><rect x="3127" y="617" width="95" height="80"/><text x="3174.5" y="636">regulation<tspan x="3174.5" dy="17">of cellular</tspan><tspan x="3174.5" dy="17">biosynthetic</tspan><tspan x="3174.5" dy="17">process</tspan></text></g>
<g id="reg_metal_trans" class="w"><rect x="2156" y="832" width="93" height="63"/><text x="2202.5" y="851">regulation<tspan x="2202.5" dy="17">of metal ion</tspan><tspan x="2202.5" dy="17">transport</tspan></text></g>
<g id="reg_cell_prot" class="w"><rect x="2372" y="824" width="125" height="80"/><text x="2434.5" y="843">regulation<tspan x="2434.5" dy="17">of cellular</tspan><tspan x="2434.5" dy="17">protein metabolic</tspan><tspan x="2434.5" dy="17">process</tspan></text></g>
<g id="pos_prot_metab" class="w"><rect x="2596" y="815" width="82" height="97"/><text x="2637" y="834">positive<tspan x="2637" dy="17">regulation</tspan><tspan x="2637" dy="17">of protein</tspan><tspan x="2637" dy="17">metabolic</tspan><tspan x="2637" dy="17">process</tspan></text></g>
<g id="reg_rna_metab" class="w"><rect x="2756" y="832" width="124" height="63"/><text x="2818" y="851">regulation<tspan x="2818" dy="17">of RNA metabolic</tspan><tspan x="2818" dy="17">process</tspan></text></g>
<g id="pos_gene" class="y"><rect x="2906" y="832" width="129" height="63"/><text x="2970.5" y="851">positive<tspan x="2970.5" dy="17">regulation</tspan><tspan x="2970.5" dy="17">of gene expression</tspan></text></g>
<g id="reg_cell_macro_biosyn" class="w"><rect x="3161" y="815" width="114" height="97"/><text x="3218" y="834">regulation<tspan x="3218" dy="17">of cellular</tspan><tspan x="3218" dy="17">macromolecule</tspan><tspan x="3218" dy="17">biosynthetic</tspan><tspan x="3218" dy="17">process</tspan></text></g>
<g id="reg_iron_trans" class="y"><rect x="2165" y="1091" width="83" height="63"/><text x="2206.5" y="1110">regulation<tspan x="2206.5" dy="17">of iron ion</tspan><tspan x="2206.5" dy="17">transport</tspan></text></g>
<g id="reg_prot_mod" class="w"><rect x="2272" y="1082" width="93" height="81"/><text x="2318.5" y="1101.5">regulation<tspan x="2318.5" dy="17">of protein</tspan><tspan x="2318.5" dy="17">modification</tspan><tspan x="2318.5" dy="17">process</tspan></text></g>
<g id="pos_cell_prot" class="w"><rect x="2389" y="1074" width="126" height="97"/><text x="2452" y="1093">positive<tspan x="2452" dy="17">regulation</tspan><tspan x="2452" dy="17">of cellular</tspan><tspan x="2452" dy="17">protein metabolic</tspan><tspan x="2452" dy="17">process</tspan></text></g>
<g id="reg_rna_biosyn" class="y"><rect x="2895" y="1091" width="140" height="63"/><text x="2965" y="1110">regulation<tspan x="2965" dy="17">of RNA biosynthetic</tspan><tspan x="2965" dy="17">process</tspan></text></g>
<g id="pos_prot_mod" class="w"><rect x="2272" y="1316" width="93" height="97"/><text x="2318.5" y="1335">positive<tspan x="2318.5" dy="17">regulation</tspan><tspan x="2318.5" dy="17">of protein</tspan><tspan x="2318.5" dy="17">modification</tspan><tspan x="2318.5" dy="17">process</tspan></text></g>
<g id="reg_nucleic" class="y"><rect x="2919" y="1324" width="109" height="80"/><text x="2973.5" y="1343">regulation<tspan x="2973.5" dy="17">of nucleic</tspan><tspan x="2973.5" dy="17">acid-templated</tspan><tspan x="2973.5" dy="17">transcription</tspan></text></g>
<g id="reg_trans_dna" class="y"><rect x="3028" y="1514" width="114" height="63"/><text x="3085" y="1533">regulation<tspan x="3085" dy="17">of transcription,</tspan><tspan x="3085" dy="17">DNA-templated</tspan></text></g>
<g id="reg_trans_pol" class="y"><rect x="3019" y="1652" width="140" height="80"/><text x="3089" y="1671">regulation<tspan x="3089" dy="17">of transcription</tspan><tspan x="3089" dy="17">by RNA polymerase</tspan><tspan x="3089" dy="17">II</tspan></text></g>
<g id="bmp" class="y"><rect x="3135" y="1798" width="108" height="48"/><text x="3189" y="1818">BMP signaling<tspan x="3189" dy="17">pathway</tspan></text></g>
<g id="bp_root" class="w"><polygon points="4203,28 4315,5 4429,28 4315,53"/><text x="4315" y="33">biological_process</text></g>
<g id="bio_reg" class="w"><rect x="3641" y="109" width="80" height="48"/><text x="3681" y="129">biological<tspan x="3681" dy="17">regulation</tspan></text></g>
<g id="multi_org" class="w"><rect x="4150" y="101" width="92" height="64"/><text x="4196" y="120.5">multicellular<tspan x="4196" dy="17">organismal</tspan><tspan x="4196" dy="17">process</tspan></text></g>
<g id="reg_bio_qual" class="o"><rect x="3634" y="214" width="95" height="62"/><text x="3681.5" y="232.5">regulation<tspan x="3681.5" dy="17">of biological</tspan><tspan x="3681.5" dy="17">quality</tspan></text></g>
<g id="cellular_proc" class="w"><rect x="3928" y="221" width="72" height="48"/><text x="3964" y="241">cellular<tspan x="3964" dy="17">process</tspan></text></g>
<g id="resp_ext" class="w"><rect x="4227" y="214" width="84" height="62"/><text x="4269" y="232.5">response<tspan x="4269" dy="17">to external</tspan><tspan x="4269" dy="17">stimulus</tspan></text></g>
<g id="reg_multi" class="w"><rect x="3501" y="325" width="110" height="81"/><text x="3556" y="344.5">regulation<tspan x="3556" dy="17">of multicellular</tspan><tspan x="3556" dy="17">organismal</tspan><tspan x="3556" dy="17">process</tspan></text></g>
<g id="homeostatic" class="r"><rect x="3777" y="341" width="96" height="48"/><text x="3825" y="361">homeostatic<tspan x="3825" dy="17">process</tspan></text></g>
<g id="cell_comm" class="w"><rect x="3897" y="341" width="134" height="48"/><text x="3964" y="369.5">cell communication</text></g>
<g id="cell_resp_ext" class="w"><rect x="4105" y="325" width="86" height="81"/><text x="4148" y="344.5">cellular<tspan x="4148" dy="17">response</tspan><tspan x="4148" dy="17">to external</tspan><tspan x="4148" dy="17">stimulus</tspan></text></g>
<g id="resp_extracell" class="w"><rect x="4214" y="333" width="110" height="63"/><text x="4269" y="352">response<tspan x="4269" dy="17">to extracellular</tspan><tspan x="4269" dy="17">stimulus</tspan></text></g>
<g id="sig_trans" class="w"><rect x="3379" y="479" width="130" height="47"/><text x="3444" y="507">signal transduction</text></g>
<g id="reg_tissue" class="w"><rect x="3535" y="472" width="84" height="62"/><text x="3577" y="490.5">regulation<tspan x="3577" dy="17">of tissue</tspan><tspan x="3577" dy="17">remodeling</tspan></text></g>
<g id="cell_homeo" class="r"><rect x="3718" y="479" width="97" height="47"/><text x="3766.5" y="498.5">cellular<tspan x="3766.5" dy="17">homeostasis</tspan></text></g>
<g id="chem_homeo" class="r"><rect x="3838" y="479" width="97" height="47"/><text x="3886.5" y="498.5">chemical<tspan x="3886.5" dy="17">homeostasis</tspan></text></g>
<g id="multi_homeo" class="lo"><rect x="3974" y="472" width="94" height="62"/><text x="4021" y="490.5">multicellular<tspan x="4021" dy="17">organismal</tspan><tspan x="4021" dy="17">homeostasis</tspan></text></g>
<g id="cell_resp_extracell" class="w"><rect x="4093" y="463" width="109" height="79"/><text x="4147.5" y="481.5">cellular<tspan x="4147.5" dy="17">response</tspan><tspan x="4147.5" dy="17">to extracellular</tspan><tspan x="4147.5" dy="17">stimulus</tspan></text></g>
<g id="resp_nutrient" class="w"><rect x="4227" y="472" width="82" height="62"/><text x="4268" y="490.5">response<tspan x="4268" dy="17">to nutrient</tspan><tspan x="4268" dy="17">levels</tspan></text></g>
<g id="reg_macro_biosyn" class="w"><rect x="3246" y="617" width="128" height="80"/><text x="3310" y="636">regulation<tspan x="3310" dy="17">of macromolecule</tspan><tspan x="3310" dy="17">biosynthetic</tspan><tspan x="3310" dy="17">process</tspan></text></g>
<g id="cell_surface" class="w"><rect x="3398" y="617" width="91" height="80"/><text x="3443.5" y="636">cell surface<tspan x="3443.5" dy="17">receptor</tspan><tspan x="3443.5" dy="17">signaling</tspan><tspan x="3443.5" dy="17">pathway</tspan></text></g>
<g id="reg_bone_remod" class="y"><rect x="3513" y="633" width="131" height="48"/><text x="3578.5" y="653">regulation<tspan x="3578.5" dy="17">of bone remodeling</tspan></text></g>
<g id="cell_chem_homeo" class="r"><rect x="3718" y="626" width="97" height="63"/><text x="3766.5" y="645">cellular<tspan x="3766.5" dy="17">chemical</tspan><tspan x="3766.5" dy="17">homeostasis</tspan></text></g>
<g id="ion_homeo" class="r"><rect x="3838" y="633" width="119" height="48"/><text x="3897.5" y="661.5">ion homeostasis</text></g>
<g id="cell_resp_nutr" class="w"><rect x="4178" y="617" width="82" height="80"/><text x="4219" y="636">cellular<tspan x="4219" dy="17">response</tspan><tspan x="4219" dy="17">to nutrient</tspan><tspan x="4219" dy="17">levels</tspan></text></g>
<g id="enzyme_linked" class="w"><rect x="3377" y="824" width="120" height="80"/><text x="3437" y="843">enzyme linked<tspan x="3437" dy="17">receptor</tspan><tspan x="3437" dy="17">protein signaling</tspan><tspan x="3437" dy="17">pathway</tspan></text></g>
<g id="reg_bone_resorp" class="y"><rect x="3533" y="840" width="125" height="48"/><text x="3595.5" y="860">regulation<tspan x="3595.5" dy="17">of bone resorption</tspan></text></g>
<g id="cell_ion_homeo" class="r"><rect x="3687" y="840" width="117" height="48"/><text x="3745.5" y="860">cellular<tspan x="3745.5" dy="17">ion homeostasis</tspan></text></g>
<g id="cation_homeo" class="r"><rect x="3828" y="840" width="133" height="48"/><text x="3894.5" y="868.5">cation homeostasis</text></g>
<g id="inorg_homeo" class="r"><rect x="3985" y="840" width="118" height="48"/><text x="4044" y="860">inorganic<tspan x="4044" dy="17">ion homeostasis</tspan></text></g>
<g id="cell_resp_starv" class="w"><rect x="4213" y="832" width="92" height="63"/><text x="4259" y="851">cellular<tspan x="4259" dy="17">response</tspan><tspan x="4259" dy="17">to starvation</tspan></text></g>
<g id="cell_cation_homeo" class="r"><rect x="3813" y="1099" width="134" height="48"/><text x="3880" y="1119">cellular<tspan x="3880" dy="17">cation homeostasis</tspan></text></g>
<g id="metal_homeo" class="r"><rect x="3971" y="1099" width="95" height="48"/><text x="4018.5" y="1119">metal ion<tspan x="4018.5" dy="17">homeostasis</tspan></text></g>
<g id="cell_resp_iron_starv" class="y"><rect x="4217" y="1082" width="83" height="81"/><text x="4258.5" y="1101.5">cellular<tspan x="4258.5" dy="17">response</tspan><tspan x="4258.5" dy="17">to iron ion</tspan><tspan x="4258.5" dy="17">starvation</tspan></text></g>
<g id="cell_metal_homeo" class="r"><rect x="3841" y="1333" width="96" height="63"/><text x="3889" y="1352">cellular<tspan x="3889" dy="17">metal ion</tspan><tspan x="3889" dy="17">homeostasis</tspan></text></g>
<g id="trans_metal_homeo" class="r"><rect x="3971" y="1333" width="95" height="63"/><text x="4018.5" y="1352">transition<tspan x="4018.5" dy="17">metal ion</tspan><tspan x="4018.5" dy="17">homeostasis</tspan></text></g>
<g id="cell_trans_metal_homeo" class="r"><rect x="3841" y="1505" width="96" height="81"/><text x="3889" y="1524.5">cellular<tspan x="3889" dy="17">transition</tspan><tspan x="3889" dy="17">metal ion</tspan><tspan x="3889" dy="17">homeostasis</tspan></text></g>
<g id="iron_homeo" class="r"><rect x="3961" y="1521" width="142" height="49"/><text x="4032" y="1550">iron ion homeostasis</text></g>
<g id="cell_iron_homeo" class="r"><rect x="3840" y="1668" width="141" height="49"/><text x="3910.5" y="1688.5">cellular<tspan x="3910.5" dy="17">iron ion homeostasis</tspan></text></g>
<g id="multi_iron_homeo" class="r"><rect x="4048" y="1661" width="141" height="63"/><text x="4118.5" y="1680">multicellular<tspan x="4118.5" dy="17">organismal</tspan><tspan x="4118.5" dy="17">iron ion homeostasis</tspan></text></g>
<g id="iron_assim" class="lo"><rect x="3854" y="1798" width="114" height="48"/><text x="3911" y="1826.5">iron assimilation</text></g>
<g id="tm_ser" class="y"><rect x="3208" y="1644" width="161" height="97"/><text x="3288.5" y="1663">transmembrane<tspan x="3288.5" dy="17">receptor</tspan><tspan x="3288.5" dy="17">protein serine/threonine</tspan><tspan x="3288.5" dy="17">kinase signaling</tspan><tspan x="3288.5" dy="17">pathway</tspan></text></g>
<g id="resp_stim" class="w"><rect x="4395" y="109" width="85" height="48"/><text x="4437.5" y="129">response<tspan x="4437.5" dy="17">to stimulus</tspan></text></g>
<g id="cell_resp_stim" class="w"><rect x="4348" y="333" width="85" height="63"/><text x="4390.5" y="352">cellular<tspan x="4390.5" dy="17">response</tspan><tspan x="4390.5" dy="17">to stimulus</tspan></text></g>
<g id="resp_stress" class="w"><rect x="4457" y="341" width="78" height="48"/><text x="4496" y="361">response<tspan x="4496" dy="17">to stress</tspan></text></g>
<g id="resp_chem" class="y"><rect x="4685" y="341" width="88" height="48"/><text x="4729" y="361">response<tspan x="4729" dy="17">to chemical</tspan></text></g>
<g id="cell_resp_stress" class="w"><rect x="4333" y="472" width="77" height="62"/><text x="4371.5" y="490.5">cellular<tspan x="4371.5" dy="17">response</tspan><tspan x="4371.5" dy="17">to stress</tspan></text></g>
<g id="defense" class="w"><rect x="4485" y="479" width="123" height="47"/><text x="4546.5" y="507">defense response</text></g>
<g id="resp_organic" class="w"><rect x="4631" y="472" width="84" height="62"/><text x="4673" y="490.5">response<tspan x="4673" dy="17">to organic</tspan><tspan x="4673" dy="17">substance</tspan></text></g>
<g id="cell_resp_chem" class="y"><rect x="4739" y="463" width="92" height="79"/><text x="4785" y="481.5">cellular<tspan x="4785" dy="17">response</tspan><tspan x="4785" dy="17">to chemical</tspan><tspan x="4785" dy="17">stimulus</tspan></text></g>
<g id="resp_inorg" class="lo"><rect x="4947" y="472" width="94" height="62"/><text x="4994" y="490.5">response<tspan x="4994" dy="17">to inorganic</tspan><tspan x="4994" dy="17">substance</tspan></text></g>
<g id="resp_starv" class="w"><rect x="4335" y="633" width="90" height="48"/><text x="4380" y="653">response<tspan x="4380" dy="17">to starvation</tspan></text></g>
<g id="inflam" class="y"><rect x="4463" y="633" width="97" height="48"/><text x="4511.5" y="653">inflammatory<tspan x="4511.5" dy="17">response</tspan></text></g>
<g id="cell_resp_organic" class="w"><rect x="4607" y="617" width="82" height="80"/><text x="4648" y="636">cellular<tspan x="4648" dy="17">response</tspan><tspan x="4648" dy="17">to organic</tspan><tspan x="4648" dy="17">substance</tspan></text></g>
<g id="resp_growth" class="w"><rect x="4713" y="626" width="77" height="63"/><text x="4751.5" y="645">response<tspan x="4751.5" dy="17">to growth</tspan><tspan x="4751.5" dy="17">factor</tspan></text></g>
<g id="resp_endo" class="w"><rect x="4815" y="626" width="109" height="63"/><text x="4869.5" y="645">response<tspan x="4869.5" dy="17">to endogenous</tspan><tspan x="4869.5" dy="17">stimulus</tspan></text></g>
<g id="cell_resp_inorg" class="y"><rect x="4947" y="617" width="94" height="80"/><text x="4994" y="636">cellular<tspan x="4994" dy="17">response</tspan><tspan x="4994" dy="17">to inorganic</tspan><tspan x="4994" dy="17">substance</tspan></text></g>
<g id="resp_metal" class="o"><rect x="5065" y="633" width="91" height="48"/><text x="5110.5" y="653">response<tspan x="5110.5" dy="17">to metal ion</tspan></text></g>
<g id="resp_iron_starv" class="lo"><rect x="4328" y="832" width="82" height="63"/><text x="4369" y="851">response<tspan x="4369" dy="17">to iron ion</tspan><tspan x="4369" dy="17">starvation</tspan></text></g>
<g id="acute_inflam" class="y"><rect x="4436" y="840" width="135" height="48"/><text x="4503.5" y="860">acute inflammatory<tspan x="4503.5" dy="17">response</tspan></text></g>
<g id="cell_resp_growth" class="w"><rect x="4595" y="824" width="106" height="80"/><text x="4648" y="843">cellular<tspan x="4648" dy="17">response</tspan><tspan x="4648" dy="17">to growth</tspan><tspan x="4648" dy="17">factor stimulus</tspan></text></g>
<g id="resp_bmp" class="y"><rect x="4725" y="840" width="78" height="48"/><text x="4764" y="860">response<tspan x="4764" dy="17">to BMP</tspan></text></g>
<g id="cell_resp_endo" class="w"><rect x="4827" y="824" width="109" height="80"/><text x="4881.5" y="843">cellular<tspan x="4881.5" dy="17">response</tspan><tspan x="4881.5" dy="17">to endogenous</tspan><tspan x="4881.5" dy="17">stimulus</tspan></text></g>
<g id="cell_resp_metal" class="y"><rect x="4960" y="832" width="90" height="63"/><text x="5005" y="851">cellular<tspan x="5005" dy="17">response</tspan><tspan x="5005" dy="17">to metal ion</tspan></text></g>
<g id="resp_iron" class="r"><rect x="5075" y="840" width="76" height="48"/><text x="5113" y="860">response<tspan x="5113" dy="17">to iron ion</tspan></text></g>
<g id="div_inorg" class="w"><rect x="5177" y="832" width="112" height="63"/><text x="5233" y="851">divalent<tspan x="5233" dy="17">inorganic</tspan><tspan x="5233" dy="17">cation transport</tspan></text></g>
<g id="metal_trans" class="lo"><rect x="5313" y="840" width="78" height="48"/><text x="5352" y="860">metal ion<tspan x="5352" dy="17">transport</tspan></text></g>
<g id="acute_phase" class="lo"><rect x="4455" y="1099" width="96" height="48"/><text x="4503" y="1119">acute-phase<tspan x="4503" dy="17">response</tspan></text></g>
<g id="cell_resp_bmp" class="y"><rect x="4705" y="1091" width="118" height="63"/><text x="4764" y="1110">cellular<tspan x="4764" dy="17">response</tspan><tspan x="4764" dy="17">to BMP stimulus</tspan></text></g>
<g id="cell_resp_iron" class="o"><rect x="4965" y="1091" width="78" height="63"/><text x="5004" y="1110">cellular<tspan x="5004" dy="17">response</tspan><tspan x="5004" dy="17">to iron ion</tspan></text></g>
<g id="div_metal" class="y"><rect x="5067" y="1091" width="77" height="63"/><text x="5105.5" y="1110">divalent<tspan x="5105.5" dy="17">metal ion</tspan><tspan x="5105.5" dy="17">transport</tspan></text></g>
<g id="lead" class="y"><rect x="5168" y="1099" width="123" height="48"/><text x="5229.5" y="1127.5">lead ion transport</text></g>
<g id="trans_metal_trans" class="r"><rect x="5315" y="1091" width="77" height="63"/><text x="5353.5" y="1110">transition<tspan x="5353.5" dy="17">metal ion</tspan><tspan x="5353.5" dy="17">transport</tspan></text></g>
<g id="cadmium" class="lo"><rect x="5048" y="1340" width="99" height="48"/><text x="5097.5" y="1360">cadmium ion<tspan x="5097.5" dy="17">transport</tspan></text></g>
<g id="iron_trans" class="r"><rect x="5171" y="1340" width="117" height="48"/><text x="5229.5" y="1368.5">iron ion transport</text></g>
<g id="nickel_cation" class="y"><rect x="5312" y="1340" width="99" height="48"/><text x="5361.5" y="1360">nickel cation<tspan x="5361.5" dy="17">transport</tspan></text></g>
<g id="ferrous_trans" class="y"><rect x="4996" y="1521" width="91" height="49"/><text x="5041.5" y="1541.5">ferrous iron<tspan x="5041.5" dy="17">transport</tspan></text></g>
<g id="cadmium_tm" class="lo"><rect x="5110" y="1514" width="115" height="63"/><text x="5167.5" y="1533">cadmium ion<tspan x="5167.5" dy="17">transmembrane</tspan><tspan x="5167.5" dy="17">transport</tspan></text></g>
<g id="iron_tm" class="r"><rect x="5250" y="1521" width="161" height="49"/><text x="5330.5" y="1541.5">iron ion transmembrane<tspan x="5330.5" dy="17">transport</tspan></text></g>
<g id="div_metal_export" class="w"><rect x="4870" y="1661" width="77" height="63"/><text x="4908.5" y="1680">divalent<tspan x="4908.5" dy="17">metal ion</tspan><tspan x="4908.5" dy="17">export</tspan></text></g>
<g id="iron_cation_export" class="y"><rect x="4971" y="1668" width="85" height="49"/><text x="5013.5" y="1688.5">iron cation<tspan x="5013.5" dy="17">export</tspan></text></g>
<g id="ferrous_tm" class="y"><rect x="5080" y="1661" width="114" height="63"/><text x="5137" y="1680">ferrous iron<tspan x="5137" dy="17">transmembrane</tspan><tspan x="5137" dy="17">transport</tspan></text></g>
<g id="ferrous_export" class="y"><rect x="5011" y="1791" width="127" height="63"/><text x="5074.5" y="1810">ferrous iron<tspan x="5074.5" dy="17">export across</tspan><tspan x="5074.5" dy="17">plasma membrane</tspan></text></g>
<g id="localization" class="w"><rect x="5746" y="109" width="86" height="48"/><text x="5789" y="137.5">localization</text></g>
<g id="dev_proc" class="w"><rect x="5977" y="109" width="107" height="48"/><text x="6030.5" y="129">developmental<tspan x="6030.5" dy="17">process</tspan></text></g>
<g id="estab_local" class="w"><rect x="5736" y="221" width="107" height="48"/><text x="5789.5" y="241">establishment<tspan x="5789.5" dy="17">of localization</tspan></text></g>
<g id="macro_local" class="w"><rect x="5893" y="221" width="115" height="48"/><text x="5950.5" y="241">macromolecule<tspan x="5950.5" dy="17">localization</tspan></text></g>
<g id="anat_dev" class="w"><rect x="6107" y="214" width="93" height="62"/><text x="6153.5" y="232.5">anatomical<tspan x="6153.5" dy="17">structure</tspan><tspan x="6153.5" dy="17">development</tspan></text></g>
<g id="transport" class="w"><rect x="5727" y="341" width="71" height="48"/><text x="5762.5" y="369.5">transport</text></g>
<g id="prot_local" class="w"><rect x="5939" y="341" width="130" height="48"/><text x="6004" y="369.5">protein localization</text></g>
<g id="regeneration" class="w"><rect x="6107" y="341" width="93" height="48"/><text x="6153.5" y="369.5">regeneration</text></g>
<g id="animal_dev" class="w"><rect x="6223" y="341" width="99" height="48"/><text x="6272.5" y="361">animal organ<tspan x="6272.5" dy="17">development</tspan></text></g>
<g id="ion_transport" class="y"><rect x="5492" y="479" width="93" height="47"/><text x="5538.5" y="507">ion transport</text></g>
<g id="org_sub_trans" class="w"><rect x="5660" y="479" width="130" height="47"/><text x="5725" y="498.5">organic substance<tspan x="5725" dy="17">transport</tspan></text></g>
<g id="import_cell" class="y"><rect x="5815" y="479" width="84" height="47"/><text x="5857" y="498.5">import into<tspan x="5857" dy="17">cell</tspan></text></g>
<g id="nitro_trans" class="w"><rect x="5924" y="472" width="85" height="62"/><text x="5966.5" y="490.5">nitrogen<tspan x="5966.5" dy="17">compound</tspan><tspan x="5966.5" dy="17">transport</tspan></text></g>
<g id="estab_prot_local" class="w"><rect x="6033" y="472" width="107" height="62"/><text x="6086.5" y="490.5">establishment<tspan x="6086.5" dy="17">of protein</tspan><tspan x="6086.5" dy="17">localization</tspan></text></g>
<g id="animal_regen" class="w"><rect x="6163" y="479" width="99" height="47"/><text x="6212.5" y="498.5">animal organ<tspan x="6212.5" dy="17">regeneration</tspan></text></g>
<g id="gland_dev" class="w"><rect x="6287" y="479" width="128" height="47"/><text x="6351" y="507">gland development</text></g>
<g id="cation_trans" class="lo"><rect x="5398" y="633" width="112" height="48"/><text x="5454" y="661.5">cation transport</text></g>
<g id="tm_trans" class="w"><rect x="5585" y="633" width="114" height="48"/><text x="5642" y="653">transmembrane<tspan x="5642" dy="17">transport</tspan></text></g>
<g id="amide_trans" class="w"><rect x="5914" y="633" width="113" height="48"/><text x="5970.5" y="661.5">amide transport</text></g>
<g id="liver_dev" class="w"><rect x="6279" y="633" width="121" height="48"/><text x="6339.5" y="661.5">liver development</text></g>
<g id="ion_tm" class="w"><rect x="5538" y="840" width="137" height="48"/><text x="5606.5" y="860">ion transmembrane<tspan x="5606.5" dy="17">transport</tspan></text></g>
<g id="peptide_trans" class="w"><rect x="5917" y="840" width="117" height="48"/><text x="5975.5" y="868.5">peptide transport</text></g>
<g id="liver_regen" class="y"><rect x="6213" y="840" width="116" height="48"/><text x="6271" y="868.5">liver regeneration</text></g>
<g id="cation_tm" class="y"><rect x="5416" y="1099" width="154" height="48"/><text x="5493" y="1119">cation transmembrane<tspan x="5493" dy="17">transport</tspan></text></g>
<g id="inorg_ion_tm" class="y"><rect x="5595" y="1091" width="135" height="63"/><text x="5662.5" y="1110">inorganic<tspan x="5662.5" dy="17">ion transmembrane</tspan><tspan x="5662.5" dy="17">transport</tspan></text></g>
<g id="prot_trans" class="w"><rect x="5918" y="1099" width="115" height="48"/><text x="5975.5" y="1127.5">protein transport</text></g>
<g id="inorg_cation_tm" class="y"><rect x="5435" y="1333" width="154" height="63"/><text x="5512" y="1352">inorganic<tspan x="5512" dy="17">cation transmembrane</tspan><tspan x="5512" dy="17">transport</tspan></text></g>
<g id="manganese" class="y"><rect x="5613" y="1340" width="93" height="48"/><text x="5659.5" y="1360">manganese<tspan x="5659.5" dy="17">ion transport</tspan></text></g>
<g id="trivalent" class="lo"><rect x="5731" y="1333" width="111" height="63"/><text x="5786.5" y="1352">trivalent<tspan x="5786.5" dy="17">inorganic</tspan><tspan x="5786.5" dy="17">cation transport</tspan></text></g>
<g id="ferric" class="lo"><rect x="5436" y="1521" width="77" height="49"/><text x="5474.5" y="1541.5">ferric iron<tspan x="5474.5" dy="17">transport</tspan></text></g>
<g id="nickel_tm" class="y"><rect x="5537" y="1514" width="115" height="63"/><text x="5594.5" y="1533">nickel cation<tspan x="5594.5" dy="17">transmembrane</tspan><tspan x="5594.5" dy="17">transport</tspan></text></g>
<g id="manganese_tm" class="y"><rect x="5676" y="1514" width="135" height="63"/><text x="5743.5" y="1533">manganese<tspan x="5743.5" dy="17">ion transmembrane</tspan><tspan x="5743.5" dy="17">transport</tspan></text></g>
<g id="transferrin" class="lo"><rect x="5509" y="1668" width="83" height="49"/><text x="5550.5" y="1688.5">transferrin<tspan x="5550.5" dy="17">transport</tspan></text></g>
<g id="export_pm" class="w"><rect x="5769" y="1668" width="128" height="49"/><text x="5833" y="1688.5">export across<tspan x="5833" dy="17">plasma membrane</tspan></text></g>
</svg>
